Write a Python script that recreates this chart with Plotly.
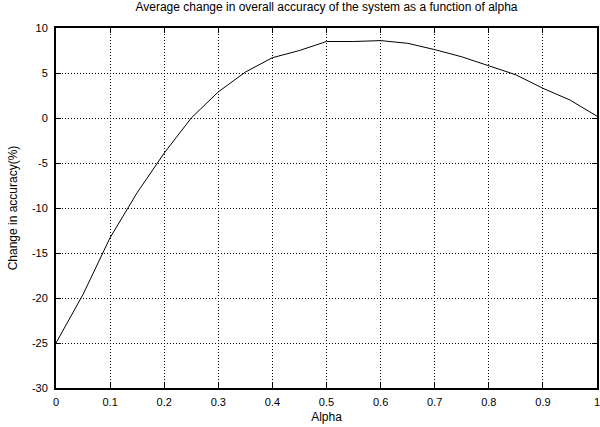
import plotly.graph_objects as go

alpha = [0.0, 0.05, 0.1, 0.15, 0.2, 0.25, 0.3, 0.35, 0.4, 0.45, 0.5, 0.55, 0.6, 0.65, 0.7, 0.75, 0.8, 0.85, 0.9, 0.95, 1.0]
change = [-25.0, -19.6, -13.3, -8.3, -3.9, 0.0, 2.9, 5.1, 6.7, 7.5, 8.5, 8.5, 8.6, 8.3, 7.6, 6.8, 5.8, 4.8, 3.3, 2.0, 0.2]

x_ticks = [0, 0.1, 0.2, 0.3, 0.4, 0.5, 0.6, 0.7, 0.8, 0.9, 1]
x_labels = ["0", "0.1", "0.2", "0.3", "0.4", "0.5", "0.6", "0.7", "0.8", "0.9", "1"]
y_ticks = [-30, -25, -20, -15, -10, -5, 0, 5, 10]
y_labels = ["-30", "-25", "-20", "-15", "-10", "-5", "0", "5", "10"]

title_text = "Average change in overall accuracy of the system as a function of alpha"

fig = go.Figure()
fig.add_trace(go.Scatter(x=alpha, y=change, mode="lines",
                         line=dict(color="black", width=1), showlegend=False))

family = "Liberation Sans, Arial, sans-serif"
font = dict(family=family, size=11, color="black")
tfont = dict(family=family, size=12, color="black")
grid = dict(showgrid=True, gridcolor="black", griddash="1px,2px", gridwidth=1,
            showline=True, linecolor="black", linewidth=2, mirror="ticks",
            ticks="inside", ticklen=5, tickcolor="black", tickwidth=1,
            zeroline=False, tickfont=font, automargin=False,
            ticklabeloverflow="allow")

fig.update_layout(
    width=600, height=427,
    margin=dict(l=56, r=3, t=28, b=39),
    paper_bgcolor="white", plot_bgcolor="white",
    font=font,
    title=dict(text=title_text, x=0.5, xref="paper", y=0.993, yref="container",
               yanchor="top", font=tfont),
    xaxis=dict(range=[0, 1], tickvals=x_ticks, ticktext=x_labels, ticklabelstandoff=3,
               title=dict(text="Alpha", font=tfont, standoff=5), **grid),
    yaxis=dict(range=[-30, 10], tickvals=y_ticks, ticktext=y_labels, ticklabelstandoff=4,
               title=dict(text="Change in accuracy(%)", font=tfont, standoff=12), **grid),
)

fig.write_html("out.html", config={"displayModeBar": False},
               post_script="document.body.style.margin='0';document.body.style.overflow='hidden';")
